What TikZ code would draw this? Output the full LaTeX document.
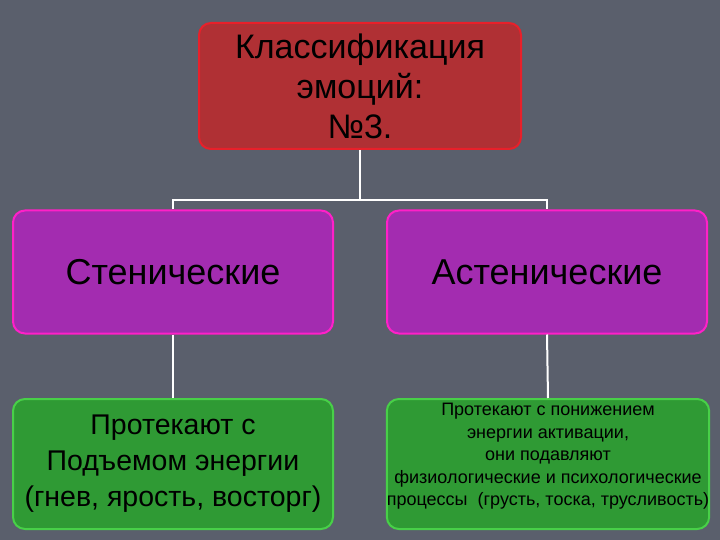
\documentclass[tikz,border=0pt]{standalone}
\usepackage{fontspec}
\setmainfont{Liberation Sans}
\definecolor{bg}{HTML}{5A5F6C}
\definecolor{rf}{HTML}{B03034}
\definecolor{rb}{HTML}{E8202A}
\definecolor{mf}{HTML}{A32CB0}
\definecolor{mb}{HTML}{FF20C8}
\definecolor{gf}{HTML}{2F9A34}
\definecolor{gb}{HTML}{48D048}
\begin{document}
\begin{tikzpicture}[x=1pt,y=-1pt,
 box/.style={draw, line width=2pt, rounded corners=12pt, text=black, align=center, inner sep=0pt},
 conn/.style={draw=white, line width=2pt}]
\fill[bg] (0,0) rectangle (720,540);
\useasboundingbox (0,0) rectangle (720,540);
\node[box, fill=rf, draw=rb, minimum width=322pt, minimum height=126pt, font=\fontsize{34}{40}\selectfont] (top) at (360,86) {Классификация\\эмоций:\\№3.};
\node[box, fill=mf, draw=mb, minimum width=320pt, minimum height=123pt, font=\fontsize{36}{40}\selectfont] (ml) at (173,272) {Стенические};
\node[box, fill=mf, draw=mb, minimum width=320pt, minimum height=123pt, font=\fontsize{36}{40}\selectfont] (mr) at (547,272) {Астенические};
\node[box, fill=gf, draw=gb, minimum width=320pt, minimum height=130pt, font=\fontsize{28.5}{36}\selectfont] (bl) at (173,464) {Протекают с\\Подъемом энергии\\(гнев, ярость, восторг)};
\node[box, fill=gf, draw=gb, minimum width=322pt, minimum height=130pt, font=\fontsize{18}{22.5}\selectfont] (br) at (548,464) {Протекают с понижением\\энергии активации,\\они подавляют\\физиологические и психологические\\процессы\ \ (грусть, тоска, трусливость)\\[-4pt]\mbox{}};
\coordinate (j) at (360,200);
\draw[conn] (top.south) -- (j);
\draw[conn] (ml.north) |- (j) -| (mr.north);
\draw[conn] (ml.south) -- (bl.north);
\draw[conn] (mr.south) -- (br.north);
\end{tikzpicture}
\end{document}
